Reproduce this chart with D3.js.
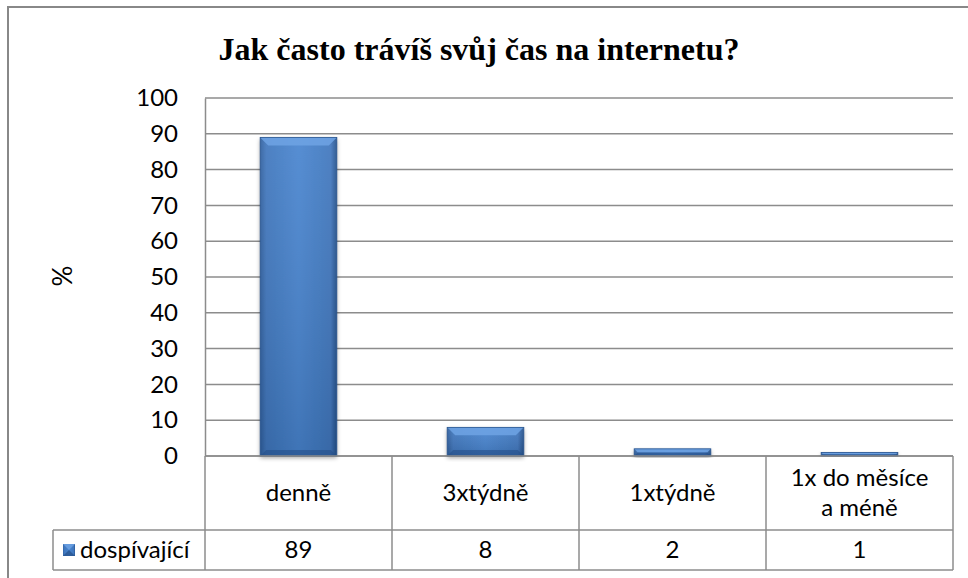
<!DOCTYPE html>
<html>
<head>
<meta charset="utf-8">
<script src="https://cdn.jsdelivr.net/npm/d3@7"></script>
<style>
  body { margin: 0; background: #fff; }
  text { font-family: Lato, "Open Sans", sans-serif; fill: #000; }
</style>
</head>
<body>
<div id="chart"></div>
<script>
const categories = ["denně", "3xtýdně", "1xtýdně", "1x do měsíce\na méně"];
const values = [89, 8, 2, 1];
const seriesName = "dospívající";
const yTicks = [0, 10, 20, 30, 40, 50, 60, 70, 80, 90, 100];
const titleText = "Jak často trávíš svůj čas na internetu?";

const W = 968, H = 578;
const margin = { top: 98, right: 15, left: 205 };
const plotBottom = 456;
const catRowBottom = 530;
const legRowBottom = 570;
const legLeft = 53;
const gridColor = "#8c8c8c";
const fontSize = "24px";

const svg = d3.select("#chart").append("svg")
    .attr("width", W)
    .attr("height", H);

const defs = svg.append("defs");
const grad = defs.append("linearGradient").attr("id", "barGrad")
    .attr("x1", "0").attr("x2", "1").attr("y1", "0").attr("y2", "0");
grad.append("stop").attr("offset", "0").attr("stop-color", "#2f5f9e");
grad.append("stop").attr("offset", "0.08").attr("stop-color", "#3f76bd");
grad.append("stop").attr("offset", "0.5").attr("stop-color", "#4784cf");
grad.append("stop").attr("offset", "0.92").attr("stop-color", "#3f76bd");
grad.append("stop").attr("offset", "1").attr("stop-color", "#24508a");

const vgrad = defs.append("linearGradient").attr("id", "barShade")
    .attr("x1", "0").attr("x2", "0").attr("y1", "0").attr("y2", "1");
vgrad.append("stop").attr("offset", "0").attr("stop-color", "#fff").attr("stop-opacity", 0.08);
vgrad.append("stop").attr("offset", "1").attr("stop-color", "#000").attr("stop-opacity", 0.12);

const shadow = defs.append("filter").attr("id", "shadow")
    .attr("x", "-20%").attr("y", "-20%").attr("width", "140%").attr("height", "140%");
shadow.append("feDropShadow").attr("dx", 0).attr("dy", 2).attr("stdDeviation", 2)
    .attr("flood-color", "#000").attr("flood-opacity", 0.35);

// outer chart frame
svg.append("rect")
    .attr("x", 8).attr("y", 7)
    .attr("width", W + 20).attr("height", H + 20)
    .attr("fill", "none")
    .attr("stroke", "#888")
    .attr("stroke-width", 2);

svg.append("text")
    .attr("x", 479).attr("y", 60)
    .attr("text-anchor", "middle")
    .style("font-family", "'Liberation Serif', 'Times New Roman', serif")
    .style("font-weight", "bold")
    .style("font-size", "32px")
    .text(titleText);

const x = d3.scaleBand()
    .domain(categories)
    .range([margin.left, W - margin.right])
    .paddingInner(0)
    .paddingOuter(0);

const y = d3.scaleLinear()
    .domain([0, 100])
    .range([plotBottom, margin.top]);

// gridlines
svg.append("g")
    .selectAll("line")
    .data(yTicks)
    .join("line")
    .attr("x1", margin.left).attr("x2", W - margin.right)
    .attr("y1", d => y(d)).attr("y2", d => y(d))
    .attr("stroke", gridColor)
    .attr("stroke-width", 1.5);

// y axis
const yAxis = svg.append("g")
    .attr("transform", `translate(${margin.left},0)`)
    .call(d3.axisLeft(y).tickValues(yTicks).tickSize(0).tickPadding(27));
yAxis.select(".domain").attr("stroke", gridColor).attr("stroke-width", 1.5);
yAxis.selectAll("text")
    .style("font-size", fontSize)
    .style("font-family", "Lato, 'Open Sans', sans-serif");

svg.append("text")
    .attr("transform", "translate(72,276) rotate(-90)")
    .attr("text-anchor", "middle")
    .style("font-size", "26px")
    .text("%");

// bars
const barW = x.bandwidth() * 0.41;
const bars = svg.append("g")
    .selectAll("g")
    .data(values)
    .join("g")
    .attr("transform", (d, i) => `translate(${x(categories[i]) + (x.bandwidth() - barW) / 2},0)`);

bars.append("rect")
    .attr("x", 0).attr("width", barW)
    .attr("y", d => y(d))
    .attr("height", d => y(0) - y(d))
    .attr("fill", "url(#barGrad)")
    .attr("filter", "url(#shadow)");

bars.append("rect")
    .attr("x", 0).attr("width", barW)
    .attr("y", d => y(d))
    .attr("height", d => y(0) - y(d))
    .attr("fill", "url(#barShade)");

// bevel top highlight
bars.append("path")
    .attr("d", d => {
        const top = y(d), h = y(0) - y(d);
        const b = Math.min(8, h / 2);
        return `M0,${top} L${barW},${top} L${barW - b},${top + b} L${b},${top + b} Z`;
    })
    .attr("fill", "#6ea3e4")
    .attr("opacity", 0.85);

// bevel bottom darker
bars.append("path")
    .attr("d", d => {
        const h = y(0) - y(d);
        const b = Math.min(6, h / 2);
        const bot = y(0);
        return `M0,${bot} L${barW},${bot} L${barW - b},${bot - b} L${b},${bot - b} Z`;
    })
    .attr("fill", "#244f88")
    .attr("opacity", 0.6);

bars.append("rect")
    .attr("x", 0).attr("width", barW)
    .attr("y", d => y(d))
    .attr("height", d => y(0) - y(d))
    .attr("fill", "none")
    .attr("stroke", "#2a5690")
    .attr("stroke-width", 0.8);

// data table
const table = svg.append("g");
const lineAttrs = sel => sel.attr("stroke", gridColor).attr("stroke-width", 1.5);

table.append("line")
    .attr("x1", margin.left).attr("x2", W - margin.right)
    .attr("y1", plotBottom).attr("y2", plotBottom)
    .call(lineAttrs);
table.append("line")
    .attr("x1", legLeft).attr("x2", W - margin.right)
    .attr("y1", catRowBottom).attr("y2", catRowBottom)
    .call(lineAttrs);
table.append("line")
    .attr("x1", legLeft).attr("x2", W - margin.right)
    .attr("y1", legRowBottom).attr("y2", legRowBottom)
    .call(lineAttrs);
table.append("line")
    .attr("x1", legLeft).attr("x2", legLeft)
    .attr("y1", catRowBottom).attr("y2", legRowBottom)
    .call(lineAttrs);
table.append("line")
    .attr("x1", margin.left).attr("x2", margin.left)
    .attr("y1", plotBottom).attr("y2", legRowBottom)
    .call(lineAttrs);

table.selectAll(".vsep")
    .data(categories)
    .join("line")
    .attr("class", "vsep")
    .attr("x1", d => x(d) + x.bandwidth()).attr("x2", d => x(d) + x.bandwidth())
    .attr("y1", plotBottom).attr("y2", legRowBottom)
    .call(lineAttrs);

// category labels
table.selectAll(".cat")
    .data(categories)
    .join("text")
    .attr("class", "cat")
    .attr("text-anchor", "middle")
    .style("font-size", fontSize)
    .each(function (d) {
        const lines = d.split("\n");
        const cx = x(d) + x.bandwidth() / 2;
        const cy = (plotBottom + catRowBottom) / 2;
        const lh = 30;
        const t = d3.select(this);
        lines.forEach((ln, i) => {
            t.append("tspan")
                .attr("x", cx)
                .attr("y", cy + 8 + (i - (lines.length - 1) / 2) * lh)
                .text(ln);
        });
    });

// values row
table.selectAll(".val")
    .data(values)
    .join("text")
    .attr("class", "val")
    .attr("text-anchor", "middle")
    .attr("x", (d, i) => x(categories[i]) + x.bandwidth() / 2)
    .attr("y", (catRowBottom + legRowBottom) / 2 + 8)
    .style("font-size", fontSize)
    .text(d => d);

// legend key
const keyX = 63, keyY = 544, keyS = 12;
table.append("rect")
    .attr("x", keyX).attr("y", keyY).attr("width", keyS).attr("height", keyS)
    .attr("fill", "url(#barGrad)");
table.append("path")
    .attr("d", `M${keyX},${keyY} L${keyX + keyS},${keyY} L${keyX + keyS / 2},${keyY + keyS / 2} Z`)
    .attr("fill", "#6ea3e4").attr("opacity", 0.8);
table.append("path")
    .attr("d", `M${keyX},${keyY + keyS} L${keyX + keyS},${keyY + keyS} L${keyX + keyS / 2},${keyY + keyS / 2} Z`)
    .attr("fill", "#244f88").attr("opacity", 0.7);
table.append("text")
    .attr("x", keyX + keyS + 5)
    .attr("y", (catRowBottom + legRowBottom) / 2 + 8)
    .style("font-size", fontSize)
    .text(seriesName);
</script>
</body>
</html>
